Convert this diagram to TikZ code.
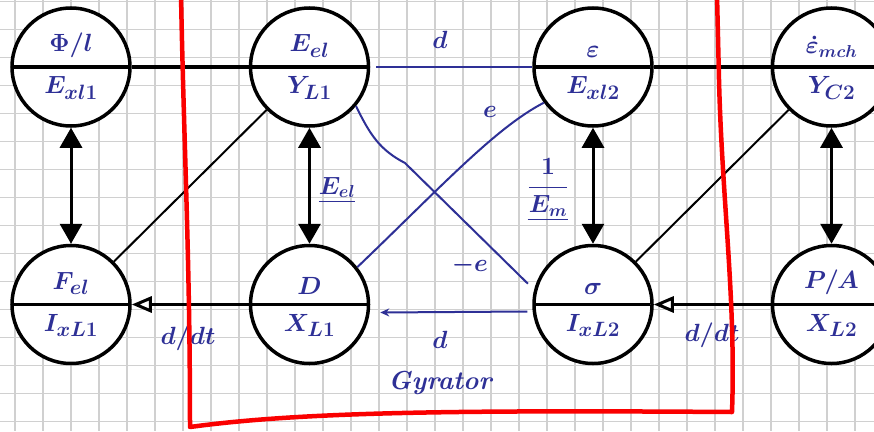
\documentclass[tikz,border=0pt]{standalone}
\usepackage{amsmath}
\usetikzlibrary{arrows.meta,positioning,shapes.multipart}
\definecolor{Ink}{RGB}{46,48,150}
\definecolor{GridGray}{RGB}{208,208,208}
\definecolor{PenRed}{RGB}{250,0,0}

\begin{document}
\begin{tikzpicture}[x=1pt,y=-1pt,node distance=117pt,
  cell/.style={circle split,draw,line width=3.5pt,fill=white,minimum size=118pt,inner sep=8pt,text=Ink,font=\fontsize{28}{32}\selectfont\boldmath},
  note/.style={text=Ink,inner sep=1pt,font=\fontsize{30}{34}\selectfont\boldmath},
  bond/.style={line width=3.5pt},
  link/.style={line width=2pt},
  wire/.style={Ink,line width=2pt},
  gridline/.style={GridGray,line width=1.4pt}]
  \fill[white] (0,0) rectangle (874,431);
  \useasboundingbox (0,0) rectangle (874,431);
  % squared paper
  \foreach \gx in {0,...,31} \draw[gridline] ({15+28*\gx},0) -- ({15+28*\gx},431);
  \foreach \gy in {0,...,15} \draw[gridline] (0,{1.7+28*\gy}) -- (874,{1.7+28*\gy});

  % upper row
  \node[cell] (phil) at (71,67) {$\Phi/l$ \nodepart{lower} $E_{xl1}$};
  \node[cell,right=of phil] (eel) {$E_{el}$ \nodepart{lower} $Y_{L1}$};
  \node[cell,right=162pt of eel] (eps) {$\varepsilon$ \nodepart{lower} $E_{xl2}$};
  \node[cell,right=of eps] (epsm) {\fontsize{25}{28}\selectfont$\dot{\varepsilon}_{mch}$ \nodepart{lower} $Y_{C2}$};
  % lower row
  \node[cell,below=116pt of phil] (fel) {$F_{el}$ \nodepart{lower} $I_{xL1}$};
  \node[cell,below=116pt of eel] (dfield) {$D$ \nodepart{lower} $X_{L1}$};
  \node[cell,below=116pt of eps] (sigma) {$\sigma$ \nodepart{lower} $I_{xL2}$};
  \node[cell,below=116pt of epsm] (pa) {$P/A$ \nodepart{lower} $X_{L2}$};

  \draw[bond] (phil.east) -- (eel.west);
  \draw[bond] (eps.east) -- (epsm.west);
  \draw[bond,-{Triangle[open,length=20pt,width=16pt,line width=3pt]}] (dfield.west) -- (fel.east);
  \draw[bond,-{Triangle[open,length=20pt,width=16pt,line width=3pt]}] (pa.west) -- (sigma.east);
  \draw[line width=3pt,{Triangle[length=20pt,width=22pt]}-{Triangle[length=20pt,width=22pt]}] (phil.south) -- (fel.north);
  \draw[line width=3pt,{Triangle[length=20pt,width=22pt]}-{Triangle[length=20pt,width=22pt]}] (eel.south) -- (dfield.north);
  \draw[line width=3pt,{Triangle[length=20pt,width=22pt]}-{Triangle[length=20pt,width=22pt]}] (eps.south) -- (sigma.north);
  \draw[line width=3pt,{Triangle[length=20pt,width=22pt]}-{Triangle[length=20pt,width=22pt]}] (epsm.south) -- (pa.north);
  \draw[link] (fel.45) -- (eel.225);
  \draw[link] (sigma.45) -- (epsm.225);

  % gyrator couplings
  \draw[wire] ([xshift=6pt]eel.east) -- (eps.west);
  \draw[wire] (eel.-40) .. controls (370,135) and (380,150) .. (405,163) -- ([xshift=-8pt]sigma.160);
  \draw[wire] (dfield.38) .. controls (440,188) and (495,128) .. (eps.216);
  \draw[wire,-{Stealth[length=9pt,width=8pt]}] ([xshift=-5pt,yshift=-7pt]sigma.west) -- ([xshift=10pt,yshift=-8pt]dfield.east);

  \node[note] (dtop) at (440,40) {$d$};
  \node[note] (etop) at (490,112) {$e$};
  \node[note] (emin) at (470,265) {$-e$};
  \node[note] (dbot) at (440,340) {$d$};
  \node[note,font=\fontsize{26}{30}\selectfont\boldmath] (keel) at (337,190) {$\underline{E_{el}}$};
  \node[note,font=\fontsize{24}{28}\selectfont\boldmath] (kem) at (548,190) {$\underline{\displaystyle\frac{1}{E_m}}$};
  \node[note,font=\fontsize{28}{32}\selectfont\boldmath] (ddtl) at (188,338) {$d/dt$};
  \node[note,font=\fontsize{28}{32}\selectfont\boldmath] (ddtr) at (712,335) {$d/dt$};
  \node[note,font=\fontsize{26}{30}\selectfont\bfseries\itshape] (gyr) at (440,383) {Gyrator};

  % red frame
  \draw[PenRed,line width=4.5pt,line join=round] (181,-5) .. controls (184,150) and (190,260) .. (190,427)
    .. controls (300,412) and (450,410) .. (732,412) .. controls (736,300) and (722,200) .. (719,80) -- (717,-5);
\end{tikzpicture}
\end{document}
